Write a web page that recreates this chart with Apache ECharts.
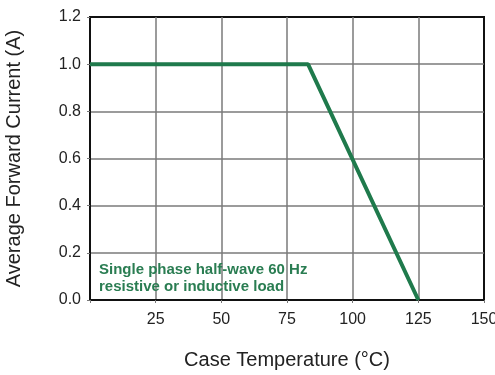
<!DOCTYPE html>
<html><head><meta charset="utf-8">
<script src="https://cdn.jsdelivr.net/npm/echarts@6/dist/echarts.min.js"></script>
<style>html,body{margin:0;padding:0;background:#fff}#c{width:495px;height:375px}</style>
</head><body><div id="c"></div>
<script>
const temps = [0, 83, 125];
const currents = [1.0, 1.0, 0.0];
const xTicks = [25, 50, 75, 100, 125, 150];
const yTicks = ['0.0','0.2','0.4','0.6','0.8','1.0','1.2'];
const noteLines = ['Single phase half-wave 60 Hz', 'resistive or inductive load'];

const chart = echarts.init(document.getElementById('c'));
const font = 'Liberation Sans, Arial, sans-serif';
chart.setOption({
  animation: false,
  grid: {left: 90, right: 11, top: 17, bottom: 75, show: true, borderColor: '#111', borderWidth: 2,
    backgroundColor: 'transparent', containLabel: false, outerBoundsMode: 'none'},
  xAxis: {
    type: 'value', min: 0, max: 150, interval: 25,
    name: 'Case Temperature (°C)', nameLocation: 'middle', nameGap: 50,
    nameTextStyle: {fontFamily: font, fontSize: 20, color: '#222'},
    axisLine: {show: true, lineStyle: {color: '#111', width: 2}},
    axisTick: {show: true, inside: false, length: 3, lineStyle: {color: '#777'}},
    axisLabel: {fontFamily: font, fontSize: 16, color: '#222', margin: 12,
      formatter: v => xTicks.indexOf(v) >= 0 ? String(v) : ''},
    splitLine: {show: true, showMinLine: false, showMaxLine: false, lineStyle: {color: '#7a7a7a', width: 1.5}}
  },
  yAxis: {
    type: 'value', min: 0, max: 1.2, interval: 0.2,
    name: 'Average Forward Current (A)', nameLocation: 'middle', nameGap: 66,
    nameTextStyle: {fontFamily: font, fontSize: 20, color: '#222'},
    axisLine: {show: true, lineStyle: {color: '#111', width: 2}},
    axisTick: {show: true, length: 3, lineStyle: {color: '#777'}},
    axisLabel: {fontFamily: font, fontSize: 16, color: '#222', margin: 9,
      formatter: v => yTicks[Math.round(v / 0.2)]},
    splitLine: {show: true, showMinLine: false, showMaxLine: false, lineStyle: {color: '#7a7a7a', width: 1.5}}
  },
  series: [{
    type: 'line', data: temps.map((t, i) => [t, currents[i]]),
    symbol: 'none', lineStyle: {color: '#1f7a4c', width: 4}, z: 5
  }],
  graphic: [{
    type: 'text', left: 99, top: 261, z: 10,
    style: {text: noteLines.join('\n'), fill: '#2a7d52', font: 'bold 15px ' + font, lineHeight: 17}
  }]
});
</script></body></html>
